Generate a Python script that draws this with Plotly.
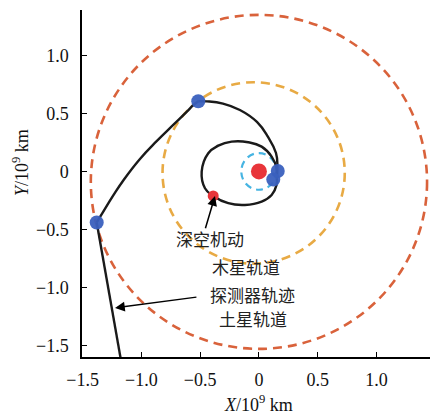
import plotly.graph_objects as go

# ---------------- data (10^9 km) ----------------
# planetary orbits: name, centre x, centre y, semi-axis x, semi-axis y
orbit_names = ["土星轨道", "木星轨道", "地球轨道"]
orbit_cx = [0.0, -0.045, 0.0]
orbit_cy = [-0.09, -0.013, 0.0]
orbit_rx = [1.43, 0.775, 0.150]
orbit_ry = [1.44, 0.782, 0.158]
orbit_colors = ["#D9623B", "#E8AA44", "#46B4E2"]
orbit_dash = ["9px,6px", "9px,6px", "7px,5px"]
orbit_width = [2.6, 2.6, 2.2]

# spacecraft trajectory, in segments between flybys
seg1_x = [0.150, 0.150, 0.108, 0.023, -0.091, -0.232, -0.346, -0.431, -0.487,
          -0.459, -0.389, -0.261, -0.119, 0.023, 0.108, 0.150, 0.152]
seg1_y = [-0.020, 0.028, 0.128, 0.214, 0.252, 0.257, 0.222, 0.157, -0.002,
          -0.145, -0.211, -0.274, -0.289, -0.260, -0.203, -0.116, -0.060]
seg2_x = [0.152, 0.157, 0.145, 0.077, -0.017, -0.162, -0.306, -0.442, -0.516]
seg2_y = [-0.060, 0.039, 0.159, 0.297, 0.427, 0.530, 0.585, 0.604, 0.605]
seg3_x = [-0.516, -0.559, -0.615, -0.729, -0.870, -1.012, -1.148, -1.239, -1.324, -1.380]
seg3_y = [0.605, 0.571, 0.513, 0.401, 0.261, 0.108, -0.069, -0.207, -0.347, -0.440]
seg4_x = [-1.380, -1.175]
seg4_y = [-0.440, -1.62]

# flyby points (blue) and red points (Sun, deep-space manoeuvre)
flyby_x = [0.160, 0.122, -0.516, -1.380]
flyby_y = [0.004, -0.070, 0.605, -0.440]
sun_x, sun_y = [0.0], [0.0]
dsm_x, dsm_y = [-0.389], [-0.211]

# labels
label_text = ["深空机动", "木星轨道", "探测器轨迹", "土星轨道"]
label_x = [-0.417, -0.106, -0.051, -0.047]
label_y = [-0.582, -0.823, -1.065, -1.272]

# arrows: head (x, y) and tail (ax, ay)
arrow_x = [-0.374, -1.224]
arrow_y = [-0.212, -1.177]
arrow_ax = [-0.459, -0.519]
arrow_ay = [-0.503, -1.082]

x_ticks = [-1.5, -1.0, -0.5, 0, 0.5, 1.0]
x_ticktext = ["\u22121.5", "\u22121.0", "\u22120.5", "0", "0.5", "1.0"]
y_ticks = [1.0, 0.5, 0, -0.5, -1.0, -1.5]
y_ticktext = ["1.0", "0.5", "0", "\u22120.5", "\u22121.0", "\u22121.5"]

# ---------------- figure ----------------
SERIF = "Liberation Serif, Times New Roman, serif"
CJK = "Noto Sans CJK SC"

fig = go.Figure()

shapes = []
for cx, cy, rx, ry, col, dsh, w in zip(orbit_cx, orbit_cy, orbit_rx, orbit_ry,
                                       orbit_colors, orbit_dash, orbit_width):
    shapes.append(dict(type="circle", xref="x", yref="y",
                       x0=cx - rx, x1=cx + rx, y0=cy - ry, y1=cy + ry,
                       line=dict(color=col, width=w, dash=dsh), layer="below"))

for sx, sy in [(seg1_x, seg1_y), (seg2_x, seg2_y), (seg3_x, seg3_y), (seg4_x, seg4_y)]:
    fig.add_trace(go.Scatter(x=sx, y=sy, mode="lines",
                             line=dict(color="#1a1a1a", width=2.4, shape="spline",
                                       smoothing=1.3),
                             hoverinfo="skip", showlegend=False))

fig.add_trace(go.Scatter(x=flyby_x, y=flyby_y, mode="markers",
                         marker=dict(color="#3A60BE", size=14, opacity=0.95),
                         showlegend=False))
fig.add_trace(go.Scatter(x=sun_x, y=sun_y, mode="markers",
                         marker=dict(color="#E8353A", size=16),
                         showlegend=False))
fig.add_trace(go.Scatter(x=dsm_x, y=dsm_y, mode="markers",
                         marker=dict(color="#E8353A", size=11),
                         showlegend=False))

annotations = []
for t, x, y in zip(label_text, label_x, label_y):
    annotations.append(dict(x=x, y=y, xref="x", yref="y", text=t, showarrow=False,
                            font=dict(family=CJK, size=17, color="#222222"),
                            xanchor="center", yanchor="middle"))
for x, y, ax, ay in zip(arrow_x, arrow_y, arrow_ax, arrow_ay):
    annotations.append(dict(x=x, y=y, ax=ax, ay=ay, xref="x", yref="y",
                            axref="x", ayref="y", text="", showarrow=True,
                            arrowhead=2, arrowsize=1.3, arrowwidth=1.5,
                            arrowcolor="#000000", standoff=0, startstandoff=0))
# axis titles
annotations.append(dict(x=0.5086, y=-0.1354, xref="paper", yref="paper",
                        text="<i>X</i>/10<sup>9</sup> km", showarrow=False,
                        xanchor="center", yanchor="middle",
                        font=dict(family=SERIF, size=18, color="#111111")))
annotations.append(dict(x=-0.178, y=0.559, xref="paper", yref="paper",
                        text="<i>Y</i>/10<sup>9</sup> km", showarrow=False,
                        textangle=-90, xanchor="center", yanchor="middle",
                        font=dict(family=SERIF, size=18, color="#111111")))

fig.update_layout(
    width=430, height=414,
    margin=dict(l=82, r=0, t=10, b=57, autoexpand=False),
    paper_bgcolor="white", plot_bgcolor="white",
    shapes=shapes, annotations=annotations,
    font=dict(family=SERIF, size=18, color="#111111"),
    showlegend=False,
)
fig.update_xaxes(range=[-1.505, 1.455], tickvals=x_ticks, ticktext=x_ticktext,
                 showgrid=False, zeroline=False, showline=True, linecolor="black",
                 linewidth=1.5, ticks="inside", ticklen=5, tickwidth=1.3,
                 tickcolor="black", ticklabelstandoff=6, automargin=False,
                 tickfont=dict(family=SERIF, size=18))
fig.update_yaxes(range=[-1.6, 1.392], tickvals=y_ticks, ticktext=y_ticktext,
                 showgrid=False, zeroline=False, showline=True, linecolor="black",
                 linewidth=1.5, ticks="inside", ticklen=5, tickwidth=1.3,
                 tickcolor="black", ticklabelstandoff=8, automargin=False,
                 tickfont=dict(family=SERIF, size=18))

fig.write_html("out.html", config={"displayModeBar": False},
               post_script="document.body.style.margin='0';"
                           "document.body.style.overflow='hidden';")
